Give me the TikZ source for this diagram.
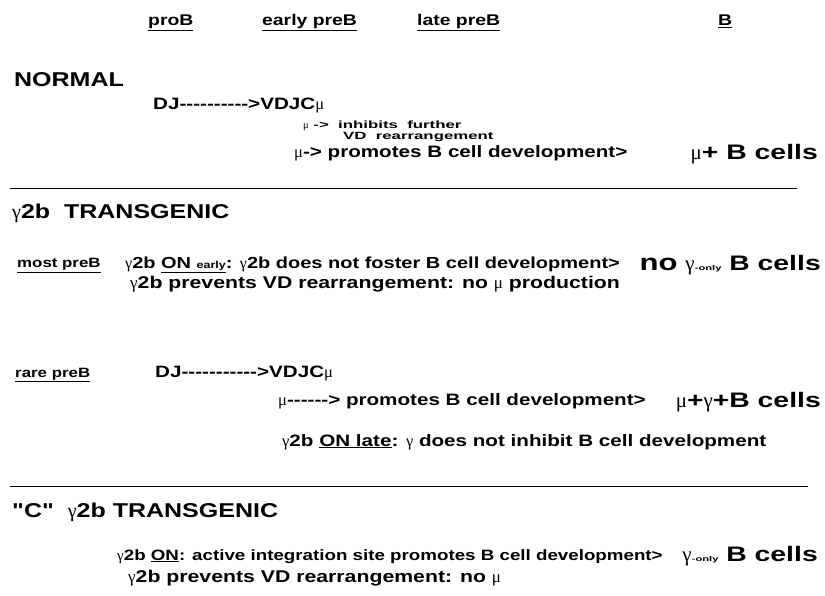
\documentclass[tikz,border=0pt]{standalone}
\usepackage{fontspec}
\newfontfamily\helv{Liberation Sans}[FakeStretch=1.25]
\newfontfamily\helvcell{Liberation Sans}[FakeStretch=1.35]
\newfontfamily\helvwide{Liberation Sans}[FakeStretch=1.6]
\newfontfamily\grk{Liberation Serif}
\newcommand{\muchar}{{\grk\mdseries μ}}
\newcommand{\gamchar}{{\grk\mdseries γ}}
\newcommand{\gonly}{{\grk\mdseries γ}{\helvwide\fontsize{7}{7}\selectfont -only}}
\newcommand{\bodyfont}{\helv\bfseries\fontsize{16.5}{18}\selectfont}
\newcommand{\stagefont}{\helv\bfseries\fontsize{15.5}{17}\selectfont}
\newcommand{\bigfont}{\helv\bfseries\fontsize{20}{22}\selectfont}
\newcommand{\tinyfont}{\helvwide\bfseries\fontsize{10.5}{12}\selectfont}
\newcommand{\cellfont}{\helvcell\bfseries\fontsize{21}{23}\selectfont}

\begin{document}
\begin{tikzpicture}[x=1pt,y=-1pt]
        \tikzstyle{txt} = [anchor=base west, inner sep=0pt, font=\bodyfont]
        \tikzstyle{stagetxt} = [txt, font=\stagefont]
        \tikzstyle{headtxt} = [txt, font=\bigfont]
        \tikzstyle{smalltxt} = [txt, font=\tinyfont]
        \tikzstyle{celltxt} = [anchor=base east, inner sep=0pt, font=\cellfont]
        \tikzstyle{rulerline} = [thick]
        \useasboundingbox (0,0) rectangle (825,596);

        % stages
        \node (prob) [stagetxt] at (148,26) {\underline{proB}};
        \node (earlypreb) [stagetxt] at (262,26) {\underline{early preB}};
        \node (latepreb) [stagetxt] at (417,26) {\underline{late preB}};
        \node (bstage) [stagetxt] at (718,26) {\underline{B}};

        % normal
        \node (normal) [headtxt] at (14,87) {NORMAL};
        \node (dj) [txt] at (153,110) {DJ---------->VDJC\muchar};
        \node (inhibit) [smalltxt] at (303,129) {\muchar\ -> \ inhibits \ further};
        \node (inhibit2) [smalltxt] at (343,140) {VD \ rearrangement};
        \node (promote) [txt] at (294,158) {\muchar-> promotes B cell development>};
        \node (mucells) [celltxt] at (818,160) {\muchar+ B cells};

        \coordinate (r1a) at (10,188);
        \coordinate (r1b) at (797,188);
        \draw [rulerline] (r1a) -- (r1b);

        % gamma2b transgenic
        \node (trans) [headtxt] at (12,219) {\gamchar2b \ TRANSGENIC};
        \node (most) [stagetxt, font=\helv\bfseries\fontsize{13.5}{15}\selectfont] at (17,268) {\underline{most preB}};
        \node (early) [txt, font=\helv\bfseries\fontsize{16}{18}\selectfont] at (125,269) {\gamchar2b \underline{ON {\fontsize{10}{10}\selectfont early}}: \gamchar2b does not foster B cell development>};
        \node (nocells) [celltxt] at (821,271) {{\fontsize{23}{23}\selectfont no} \gonly\ B cells};
        \node (prevent) [txt, font=\helv\bfseries\fontsize{17}{19}\selectfont] at (130,289) {\gamchar2b prevents VD rearrangement: no \muchar\ production};

        \node (rare) [stagetxt, font=\helv\bfseries\fontsize{13.5}{15}\selectfont] at (15,377) {\underline{rare preB}};
        \node (dj2) [txt] at (155,377) {DJ----------->VDJC\muchar};
        \node (promote2) [txt] at (278,405) {\muchar------> promotes B cell development>};
        \node (mugamcells) [celltxt] at (821,407) {\muchar+\gamchar+B cells};
        \node (late) [txt] at (282,446) {\gamchar2b \underline{ON late}: \gamchar\ does not inhibit B cell development};

        \coordinate (r2a) at (10,486);
        \coordinate (r2b) at (808,486);
        \draw [rulerline] (r2a) -- (r2b);

        % "C" transgenic
        \node (ctrans) [headtxt] at (12,517) {"C" \ \gamchar2b TRANSGENIC};
        \node (on) [txt, font=\helv\bfseries\fontsize{15}{17}\selectfont] at (117,560) {\gamchar2b \underline{ON}: active integration site promotes B cell development>};
        \node (gocells) [celltxt] at (818,561) {\gonly\ B cells};
        \node (prevent2) [txt, font=\helv\bfseries\fontsize{17}{19}\selectfont] at (128,582) {\gamchar2b prevents VD rearrangement: no \muchar};

    \end{tikzpicture}
\end{document}
